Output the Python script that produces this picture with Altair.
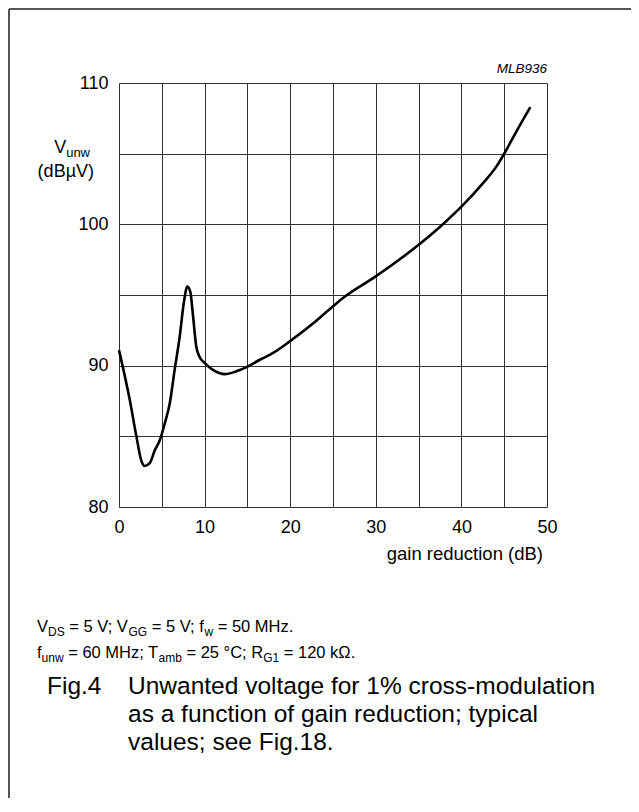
import altair as alt
import pandas as pd

# ---- data ----
gain_db = [0, 1.25, 2.03, 2.6, 3.0, 3.59, 4.17, 4.75, 5.34, 5.92, 6.5, 7.09, 7.56, 7.99,
           8.34, 8.65, 9.04, 9.43, 10.0, 10.98, 12.35, 13.7, 14.9, 16.4, 18.0, 19.9,
           22.7, 25.0, 26.2, 29.95, 34.9, 38.0, 40.0, 42.5, 44.1, 45.0, 46.4, 48.05]
v_unw = [91.1, 87.6, 85.0, 83.3, 82.9, 83.1, 84.0, 84.7, 85.9, 87.3, 89.7, 92.05, 94.4, 95.6,
         95.2, 93.5, 91.3, 90.6, 90.2, 89.7, 89.4, 89.6, 89.9, 90.4, 90.9, 91.7,
         93.0, 94.2, 94.8, 96.3, 98.5, 100.1, 101.25, 102.9, 104.1, 105.0, 106.55, 108.3]
x_grid = [0, 5, 10, 15, 20, 25, 30, 35, 40, 45, 50]
y_grid = [80, 85, 90, 95, 100, 105, 110]

FONT = "Liberation Sans"
PW, PH = 428, 424          # plot area
PL, PT = 111, 75           # padding left / top
PR, PB = 84, 291

# Helvetica / Arial advance widths (1/1000 em)
WID = {' ': 278, '.': 278, ',': 278, ';': 278, ':': 278, '=': 584, '(': 333, ')': 333,
       '%': 889, '-': 333, '°': 400, 'µ': 576, 'Ω': 768}
for ch in '0123456789':
    WID[ch] = 556
WID.update(dict(zip('ABCDEFGHIJKLMNOPQRSTUVWXYZ',
                    [667, 667, 722, 722, 667, 611, 778, 722, 278, 500, 667, 556, 833, 722, 778,
                     667, 778, 722, 667, 611, 722, 667, 944, 667, 667, 611])))
WID.update(dict(zip('abcdefghijklmnopqrstuvwxyz',
                    [556, 556, 500, 556, 556, 278, 556, 556, 222, 222, 500, 222, 833, 556, 556,
                     556, 556, 333, 500, 278, 556, 500, 722, 500, 500, 500])))


def tw(s, size):
    return sum(WID.get(c, 556) for c in s) * size / 1000.0


def layout(segs, x0, base, size, sub, drop, rows, style="normal", right=False):
    total = sum(tw(t, sub if k == 's' else size) for t, k in segs)
    x = x0 - total if right else x0
    for t, k in segs:
        fs = sub if k == 's' else size
        lead = len(t) - len(t.lstrip(' '))
        txt = t.strip(' ')
        if txt:
            rows.append(dict(px=x + tw(' ' * lead, fs) - 119, py=base + (drop if k == 's' else 0) - 83,
                             text=txt, fs=fs, st=style))
        x += tw(t, fs)


rows = []
layout([("V", 'n'), ("DS", 's'), (" = 5 V; V", 'n'), ("GG", 's'), (" = 5 V; f", 'n'), ("w", 's'),
        (" = 50 MHz.", 'n')], 37, 632, 16.5, 12, 4, rows)
layout([("f", 'n'), ("unw", 's'), (" = 60 MHz; T", 'n'), ("amb", 's'), (" = 25 °C; R", 'n'),
        ("G1", 's'), (" = 120 kΩ.", 'n')], 37, 658, 16.5, 12, 4, rows)
layout([("V", 'n'), ("unw", 's')], 90, 153, 18, 13, 4, rows, right=True)
layout([("(dBµV)", 'n')], 94, 177, 18, 12, 0, rows, right=True)
layout([("gain reduction (dB)", 'n')], 543, 560, 18.5, 12, 0, rows, right=True)
layout([("Fig.4", 'n')], 47, 694, 24.5, 16, 0, rows)
layout([("Unwanted voltage for 1% cross-modulation", 'n')], 128, 694, 24.5, 16, 0, rows)
layout([("as a function of gain reduction; typical", 'n')], 128, 722, 24.5, 16, 0, rows)
layout([("values; see Fig.18.", 'n')], 128, 750, 24.5, 16, 0, rows)
layout([("MLB936", 'n')], 547, 73, 13.5, 10, 0, rows, style="italic", right=True)
ann = pd.DataFrame(rows)

curve = pd.DataFrame({"g": gain_db, "v": v_unw})

xax = alt.Axis(values=x_grid, labelExpr="datum.value % 10 === 0 ? datum.label : ''",
               ticks=False, domain=False, grid=True, gridColor="#333333", gridWidth=1,
               labelFlush=False, labelOverlap=False,
               labelFont=FONT, labelFontSize=18, labelColor="black", labelPadding=11, title="")
yax = alt.Axis(values=y_grid, labelExpr="datum.value % 10 === 0 ? datum.label : ''",
               ticks=False, domain=False, grid=True, gridColor="#333333", gridWidth=1,
               labelFlush=False, labelOverlap=False,
               labelFont=FONT, labelFontSize=18, labelColor="black", labelPadding=11, title="")

line = alt.Chart(curve).mark_line(color="black", strokeWidth=2.6, interpolate="monotone").encode(
    x=alt.X("g:Q", scale=alt.Scale(domain=[0, 50], nice=False), axis=xax),
    y=alt.Y("v:Q", scale=alt.Scale(domain=[80, 110], nice=False, zero=False), axis=yax),
)


def text_layer(style):
    return alt.Chart(ann[ann.st == style]).mark_text(
        align="left", baseline="alphabetic", font=FONT, color="black", fontStyle=style
    ).encode(
        x=alt.X("px:Q", scale=None, axis=None),
        y=alt.Y("py:Q", scale=None, axis=None),
        text="text:N",
        size=alt.Size("fs:Q", scale=None, legend=None),
    )


border_top = alt.Chart(curve).mark_rule(color="#555555", strokeWidth=2).encode(
    x=alt.value(-110), x2=alt.value(PW + PR), y=alt.value(-74))
border_left = alt.Chart(curve).mark_rule(color="#555555", strokeWidth=2).encode(
    x=alt.value(-110), y=alt.value(-74), y2=alt.value(PH + PB))

chart = alt.layer(line, text_layer("normal"), text_layer("italic"), border_top, border_left).resolve_scale(
    x="independent", y="independent"
).properties(
    width=PW, height=PH, autosize=alt.AutoSizeParams(type="none"),
    padding={"left": PL, "top": PT, "right": PR, "bottom": PB},
).configure_view(stroke="black", strokeWidth=1.3).configure(background="white")

chart.save("out.html", embed_options={"renderer": "svg", "actions": False})
